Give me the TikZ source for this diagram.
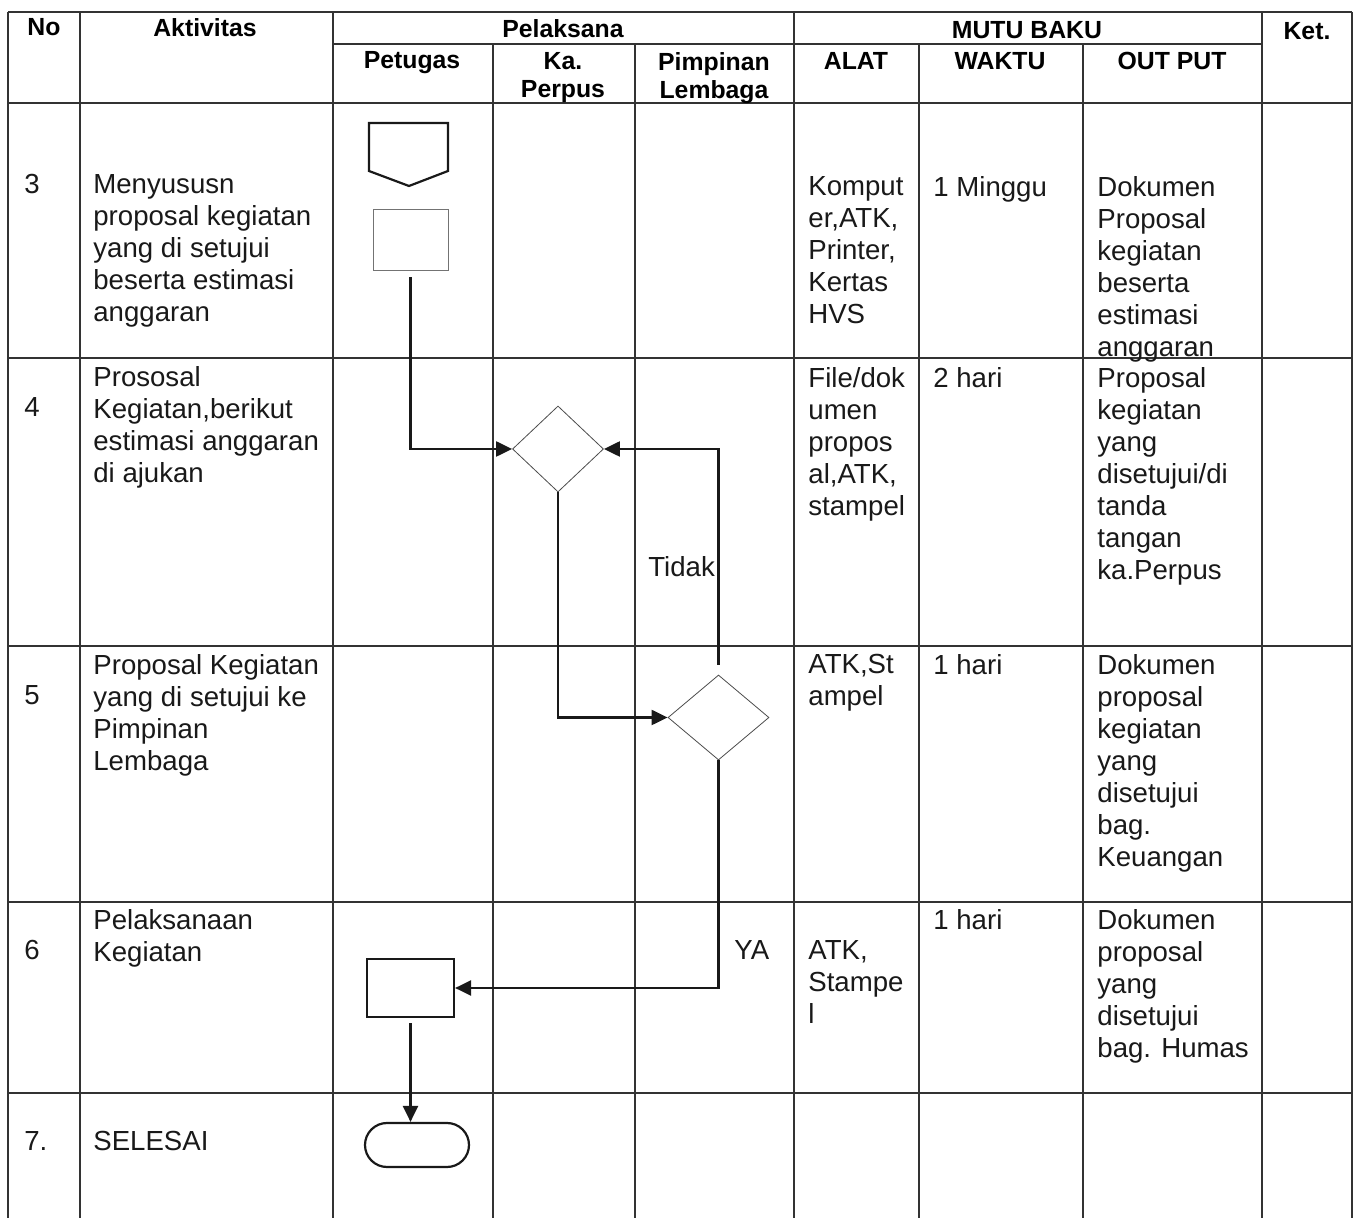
\documentclass[tikz,border=0pt]{standalone}
\usepackage{fontspec}
\setmainfont{Liberation Sans}
\usetikzlibrary{arrows.meta,shapes.geometric,positioning}

\tikzset{
	grid/.style={draw=black!80, line width=0.7pt},
	head/.style={anchor=north, inner sep=0pt, align=center, text=black, font=\fontsize{12.4}{14}\selectfont\bfseries},
	cell/.style={anchor=north west, inner sep=0pt, align=left, text=black!90, font=\fontsize{13.8}{16}\selectfont},
	flow/.style={draw=black!90, line width=1.1pt, -{Triangle[length=8pt,width=7.5pt]}},
	decision/.style={diamond, draw=black!70, line width=0.4pt, inner sep=0pt},
	process/.style={rectangle, draw=black!90, line width=1.1pt, inner sep=0pt}
}

\begin{document}
\begin{tikzpicture}[x=0.5pt,y=-0.5pt]
	\path[fill=white, use as bounding box] (0,0) rectangle (1356,1218);

	% table lines
	\draw[grid] (8,12) -- (1352,12);
	\draw[grid] (333,44) -- (1262,44);
	\foreach \y in {103,358,646,902,1093}
		\draw[grid] (8,\y) -- (1352,\y);
	\foreach \x in {8,80,333,794,1262,1352}
		\draw[grid] (\x,12) -- (\x,1218);
	\foreach \x in {493,635,919,1083}
		\draw[grid] (\x,44) -- (\x,1218);

	% header
	\node[head] (hno) at (44,18) {No};
	\node[head] (hakt) at (205,18) {Aktivitas};
	\node[head] (hpel) at (563,19) {Pelaksana};
	\node[head] (hmutu) at (1027,21) {MUTU BAKU};
	\node[head] (hket) at (1307,22) {Ket.};
	\node[head] (hpet) at (412,51) {Petugas};
	\node[head] (hka) at (563,52) {Ka.\\Perpus};
	\node[head] (hpim) at (714,52) {Pimpinan\\Lembaga};
	\node[head] (halat) at (856,52) {ALAT};
	\node[head] (hwaktu) at (1000,52) {WAKTU};
	\node[head] (hout) at (1172,52) {OUT PUT};

	% row 3
	\node[cell] (n3) at (24,174) {3};
	\node[cell] (akt3) at (93,174) {Menyususn\\proposal kegiatan\\yang di setujui\\beserta estimasi\\anggaran};
	\node[cell] (alat3) at (808,176) {Komput\\er,ATK,\\Printer,\\Kertas\\HVS};
	\node[cell] (waktu3) at (933,176) {1 Minggu};
	\node[cell] (out3) at (1097,176) {Dokumen\\Proposal\\kegiatan\\beserta\\estimasi\\anggaran};

	% row 4
	\node[cell] (n4) at (24,397) {4};
	\node[cell] (akt4) at (93,366) {Prososal\\Kegiatan,berikut\\estimasi anggaran\\di ajukan};
	\node[cell] (alat4) at (808,367) {File/dok\\umen\\propos\\al,ATK,\\stampel};
	\node[cell] (waktu4) at (933,367) {2 hari};
	\node[cell] (out4) at (1097,367) {Proposal\\kegiatan\\yang\\disetujui/di\\tanda\\tangan\\ka.Perpus};

	% row 5
	\node[cell] (n5) at (24,685) {5};
	\node[cell] (akt5) at (93,654) {Proposal Kegiatan\\yang di setujui ke\\Pimpinan\\Lembaga};
	\node[cell] (alat5) at (808,654) {ATK,St\\ampel};
	\node[cell] (waktu5) at (933,654) {1 hari};
	\node[cell] (out5) at (1097,654) {Dokumen\\proposal\\kegiatan\\yang\\disetujui\\bag.\\Keuangan};

	% row 6
	\node[cell] (n6) at (24,940) {6};
	\node[cell] (akt6) at (93,909) {Pelaksanaan\\Kegiatan};
	\node[cell] (alat6) at (808,940) {ATK,\\Stampe\\l};
	\node[cell] (waktu6) at (933,909) {1 hari};
	\node[cell] (out6) at (1097,909) {Dokumen\\proposal\\yang\\disetujui\\bag. Humas};

	% row 7
	\node[cell] (n7) at (24,1131) {7.};
	\node[cell] (akt7) at (93,1131) {SELESAI};

	% flow symbols
	\draw[black!90, line width=1.1pt] (369,123) -- (448,123) -- (448,171) -- (409,186) -- (369,171) -- cycle;
	\node[process, draw=black!55, line width=0.5pt, minimum width=37.5pt, minimum height=30.5pt] (prep) at (410.5,240.5) {};
	\node[decision, minimum width=45.5pt, minimum height=43pt] (cek1) at (558,449) {};
	\node[decision, minimum width=50.5pt, minimum height=42.5pt] (cek2) at (718.5,717.5) {};
	\node[process, minimum width=43.5pt, minimum height=29pt] (laksana) at (410.5,988) {};
	\node[process, rounded corners=11pt, minimum width=52pt, minimum height=22pt] (selesai) at (417,1145) {};

	\draw[flow] ([yshift=-3pt]prep.south) |- (cek1.west);
	\draw[flow] (cek1.south) |- (cek2.west);
	\draw[flow] ([yshift=5pt]cek2.north) |- (cek1.east);
	\draw[flow] (cek2.south) |- (laksana.east);
	\draw[flow] ([yshift=-2.5pt]laksana.south) -- (laksana.south |- selesai.north);

	\node[cell, anchor=west] (tidak) at (648,567) {Tidak};
	\node[cell, anchor=west] (ya) at (734,950) {YA};
\end{tikzpicture}
\end{document}
